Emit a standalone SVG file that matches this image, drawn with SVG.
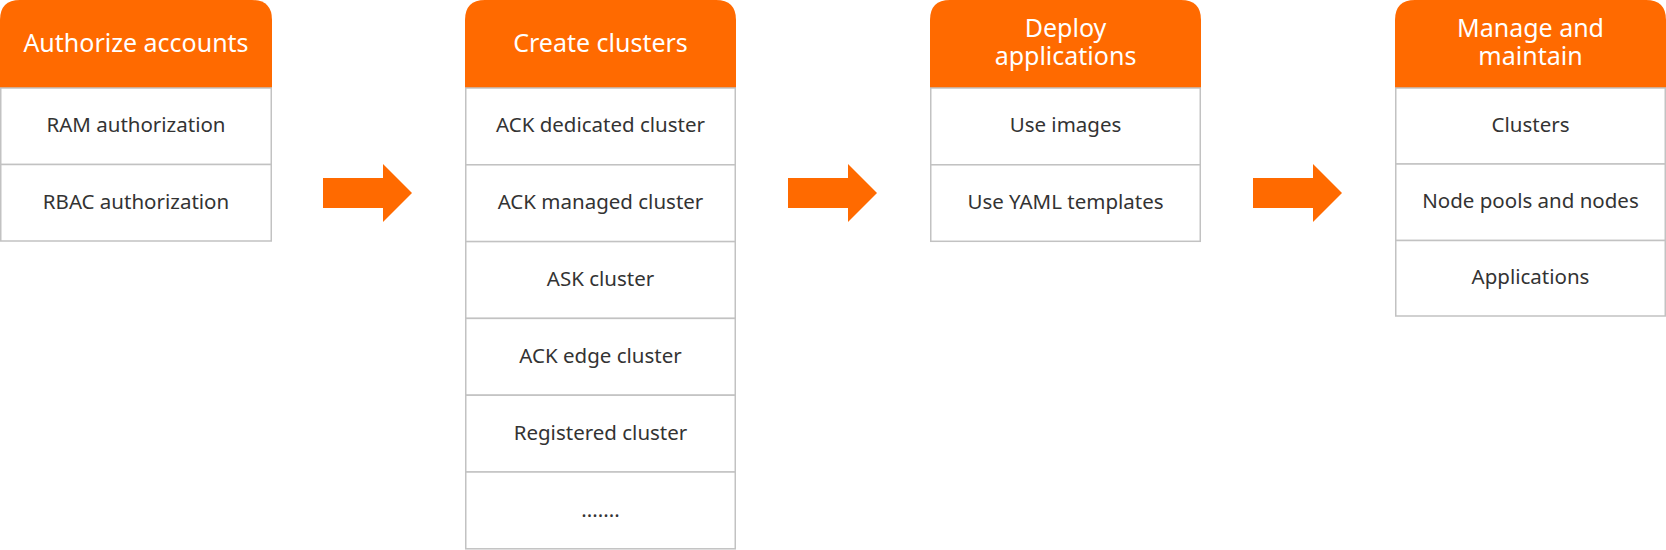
<svg xmlns="http://www.w3.org/2000/svg" width="1666" height="550" viewBox="0 0 1666 550">
<style>
.hd{fill:#FF6A00}
.row{fill:#ffffff;stroke:#c2c2c2;stroke-width:1.5}
.ht{font-family:"Noto Sans","Open Sans",sans-serif;font-size:25px;fill:#ffffff;text-anchor:middle}
.bt{font-family:"Noto Sans","Open Sans",sans-serif;font-size:20.5px;fill:#333333;text-anchor:middle}
.arr{fill:#FF6A00}
</style>
<g id="authorize-accounts">
<path class="hd" d="M0,88 V20 Q0,0 20,0 H252 Q272,0 272,20 V88 Z"/>
<text class="ht" x="136" y="52">Authorize accounts</text>
<rect class="row" x="0.75" y="88" width="270.5" height="76.5"/>
<text class="bt" x="136" y="132">RAM authorization</text>
<rect class="row" x="0.75" y="164.5" width="270.5" height="76.5"/>
<text class="bt" x="136" y="209">RBAC authorization</text>
</g>
<g id="create-clusters">
<path class="hd" d="M465,88 V20 Q465,0 485,0 H716 Q736,0 736,20 V88 Z"/>
<text class="ht" x="600.5" y="52">Create clusters</text>
<rect class="row" x="465.75" y="88" width="269.5" height="76.8"/>
<text class="bt" x="600.5" y="132">ACK dedicated cluster</text>
<rect class="row" x="465.75" y="164.8" width="269.5" height="76.8"/>
<text class="bt" x="600.5" y="209">ACK managed cluster</text>
<rect class="row" x="465.75" y="241.6" width="269.5" height="76.8"/>
<text class="bt" x="600.5" y="286">ASK cluster</text>
<rect class="row" x="465.75" y="318.4" width="269.5" height="76.8"/>
<text class="bt" x="600.5" y="363">ACK edge cluster</text>
<rect class="row" x="465.75" y="395.2" width="269.5" height="76.8"/>
<text class="bt" x="600.5" y="440">Registered cluster</text>
<rect class="row" x="465.75" y="472" width="269.5" height="76.8"/>
<text class="bt" x="600.5" y="517">.......</text>
</g>
<g id="deploy-applications">
<path class="hd" d="M930,88 V20 Q930,0 950,0 H1181 Q1201,0 1201,20 V88 Z"/>
<text class="ht" x="1065.5" y="37"><tspan x="1065.5" y="37">Deploy</tspan><tspan x="1065.5" y="65">applications</tspan></text>
<rect class="row" x="930.75" y="88" width="269.5" height="76.8"/>
<text class="bt" x="1065.5" y="132">Use images</text>
<rect class="row" x="930.75" y="164.8" width="269.5" height="76.5"/>
<text class="bt" x="1065.5" y="209">Use YAML templates</text>
</g>
<g id="manage-and-maintain">
<path class="hd" d="M1395,88 V20 Q1395,0 1415,0 H1646 Q1666,0 1666,20 V88 Z"/>
<text class="ht" x="1530.5" y="37"><tspan x="1530.5" y="37">Manage and</tspan><tspan x="1530.5" y="65">maintain</tspan></text>
<rect class="row" x="1395.75" y="88" width="269.5" height="76"/>
<text class="bt" x="1530.5" y="132">Clusters</text>
<rect class="row" x="1395.75" y="164" width="269.5" height="76.5"/>
<text class="bt" x="1530.5" y="208">Node pools and nodes</text>
<rect class="row" x="1395.75" y="240.5" width="269.5" height="75.5"/>
<text class="bt" x="1530.5" y="284">Applications</text>
</g>
<g id="connectors">
<polygon class="arr" points="323,178 383,178 383,164 412,193 383,222 383,208 323,208"/>
<polygon class="arr" points="788,178 848,178 848,164 877,193 848,222 848,208 788,208"/>
<polygon class="arr" points="1253,178 1313,178 1313,164 1342,193 1313,222 1313,208 1253,208"/>
</g>
</svg>
